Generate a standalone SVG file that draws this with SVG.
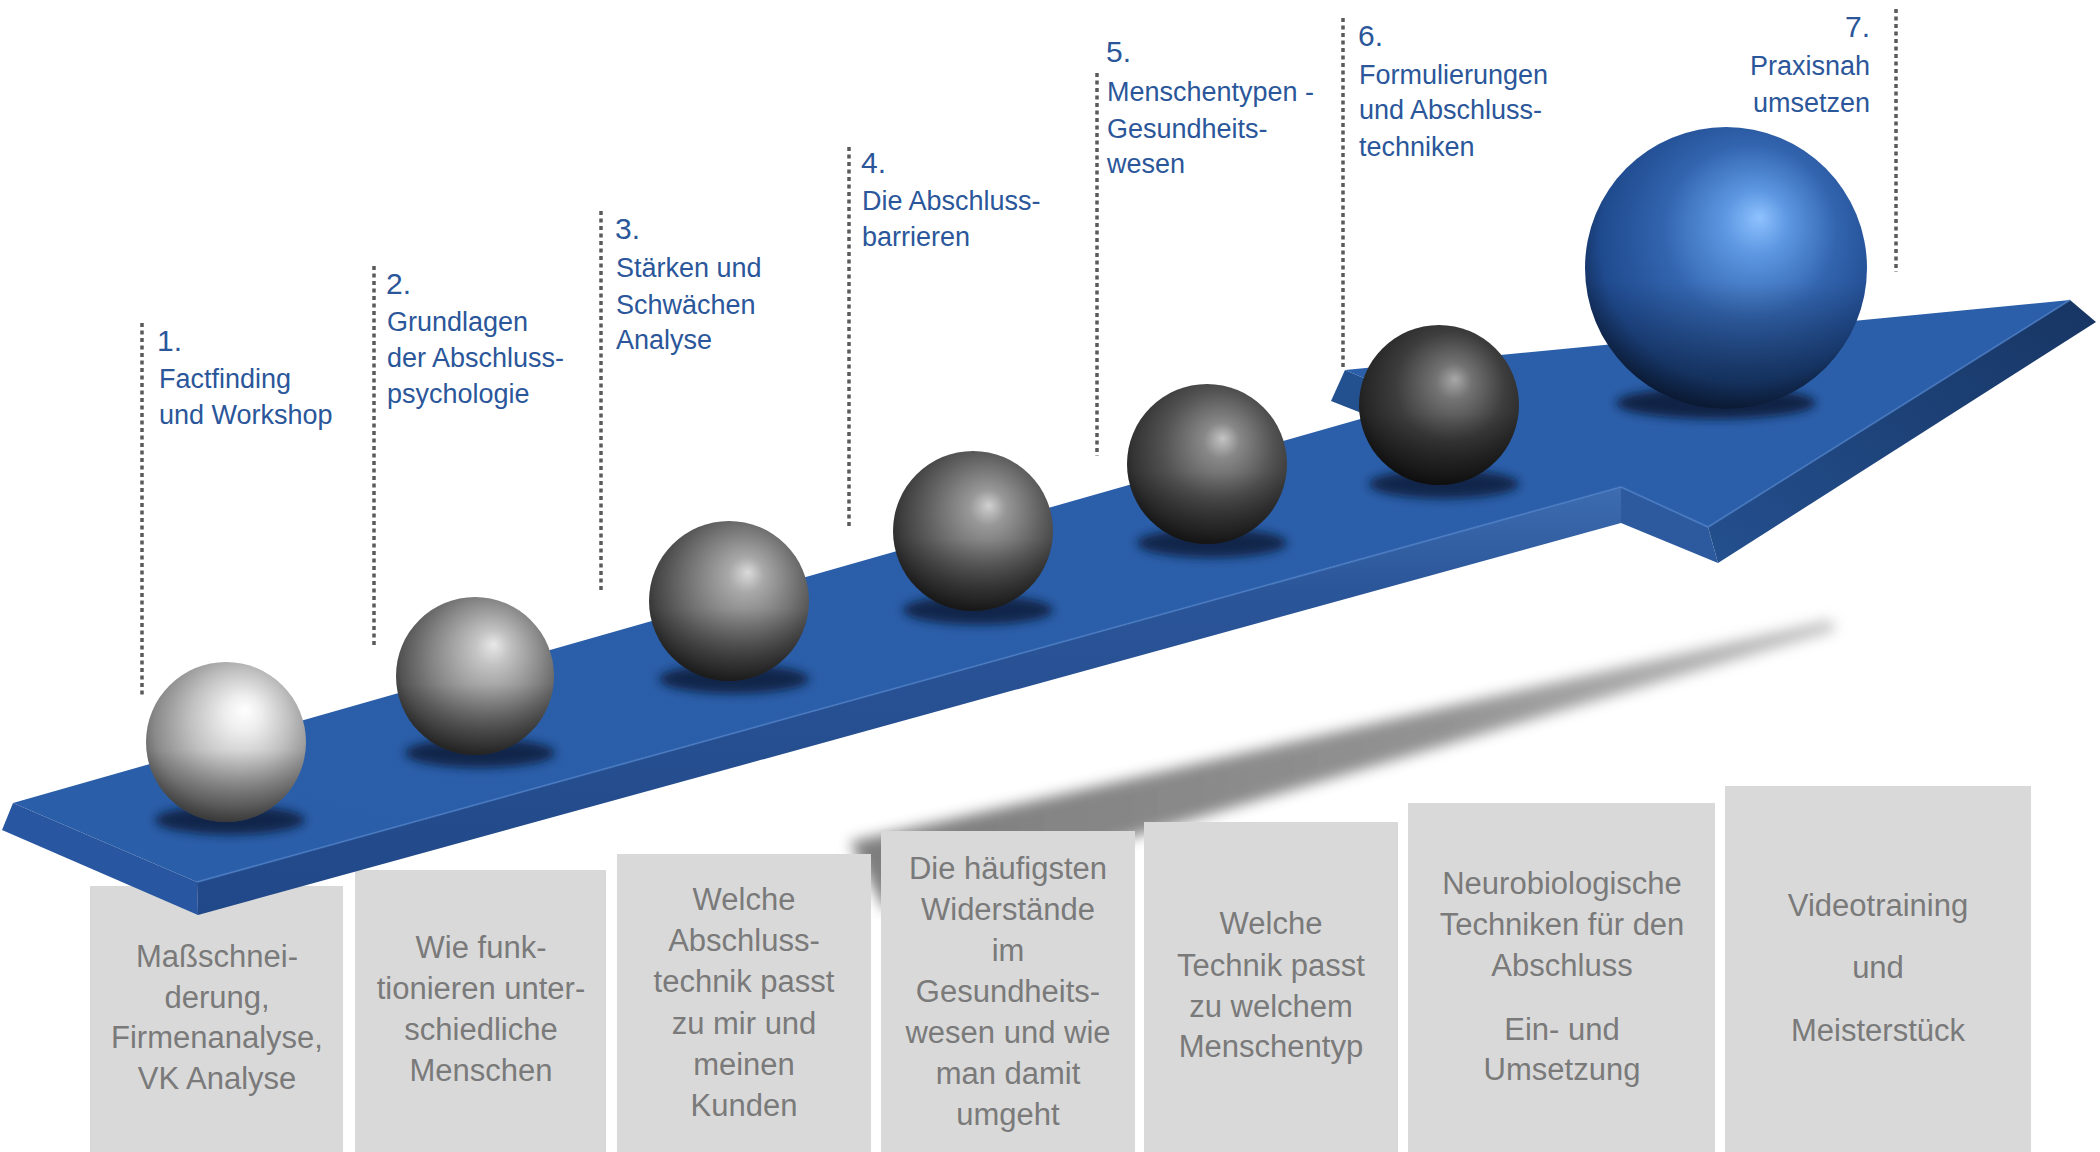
<svg xmlns="http://www.w3.org/2000/svg" width="2100" height="1152" viewBox="0 0 2100 1152">
<style>
.lbl{font-family:"Liberation Sans",Arial,sans-serif;font-size:27px;fill:#2b579a}
.num{font-family:"Liberation Sans",Arial,sans-serif;font-size:30px;fill:#2b579a}
.box{fill:#d9d9d9}
.bt{font-family:"Liberation Sans",Arial,sans-serif;font-size:31px;fill:#7a7a7a;text-anchor:middle}
.dot{stroke:#5a5a5a;stroke-width:3.5;stroke-dasharray:4 3.5;fill:none}
</style>
<defs>
<filter id="blur5" x="-50%" y="-50%" width="200%" height="200%"><feGaussianBlur stdDeviation="5"/></filter>
<filter id="blurS" x="-20%" y="-100%" width="140%" height="300%"><feGaussianBlur stdDeviation="7"/></filter>
<radialGradient id="g1" cx="0.55" cy="0.42" r="0.62" fx="0.62" fy="0.3"><stop offset="0" stop-color="#ffffff"/><stop offset="0.18" stop-color="#eeeeee"/><stop offset="0.5" stop-color="#c0c0c0"/><stop offset="0.82" stop-color="#8a8a8a"/><stop offset="1" stop-color="#5a5a5a"/></radialGradient>
<radialGradient id="g2" cx="0.55" cy="0.42" r="0.62" fx="0.62" fy="0.3"><stop offset="0" stop-color="#e8e8e8"/><stop offset="0.18" stop-color="#c2c2c2"/><stop offset="0.55" stop-color="#888"/><stop offset="0.85" stop-color="#555"/><stop offset="1" stop-color="#333"/></radialGradient>
<radialGradient id="g3" cx="0.55" cy="0.42" r="0.62" fx="0.62" fy="0.32"><stop offset="0" stop-color="#dadada"/><stop offset="0.18" stop-color="#a8a8a8"/><stop offset="0.55" stop-color="#727272"/><stop offset="0.85" stop-color="#444"/><stop offset="1" stop-color="#262626"/></radialGradient>
<radialGradient id="g4" cx="0.55" cy="0.42" r="0.62" fx="0.6" fy="0.34"><stop offset="0" stop-color="#d0d0d0"/><stop offset="0.18" stop-color="#989898"/><stop offset="0.55" stop-color="#636363"/><stop offset="0.85" stop-color="#3a3a3a"/><stop offset="1" stop-color="#202020"/></radialGradient>
<radialGradient id="g5" cx="0.55" cy="0.42" r="0.62" fx="0.6" fy="0.34"><stop offset="0" stop-color="#c4c4c4"/><stop offset="0.18" stop-color="#888"/><stop offset="0.55" stop-color="#535353"/><stop offset="0.85" stop-color="#333"/><stop offset="1" stop-color="#1c1c1c"/></radialGradient>
<radialGradient id="g6" cx="0.55" cy="0.42" r="0.62" fx="0.6" fy="0.34"><stop offset="0" stop-color="#a8a8a8"/><stop offset="0.18" stop-color="#737373"/><stop offset="0.55" stop-color="#3d3d3d"/><stop offset="0.85" stop-color="#262626"/><stop offset="1" stop-color="#141414"/></radialGradient>
<radialGradient id="gb" cx="0.55" cy="0.42" r="0.62" fx="0.62" fy="0.32"><stop offset="0" stop-color="#8ec2ff"/><stop offset="0.18" stop-color="#5e98e2"/><stop offset="0.5" stop-color="#3264ae"/><stop offset="0.82" stop-color="#1f4a8e"/><stop offset="1" stop-color="#0e2348"/></radialGradient>
<linearGradient id="dark" x1="0" y1="0" x2="0" y2="1"><stop offset="0.55" stop-color="#000" stop-opacity="0"/><stop offset="1" stop-color="#000" stop-opacity="0.45"/></linearGradient>
<linearGradient id="ff" x1="0" y1="0" x2="0" y2="1"><stop offset="0" stop-color="#3d6cb0"/><stop offset="0.25" stop-color="#2a5598"/><stop offset="1" stop-color="#214888"/></linearGradient>
<linearGradient id="hf" x1="0" y1="1" x2="1" y2="0"><stop offset="0" stop-color="#24508f"/><stop offset="1" stop-color="#173563"/></linearGradient>
<linearGradient id="top" x1="0" y1="1" x2="1" y2="0"><stop offset="0" stop-color="#2b5ea8"/><stop offset="1" stop-color="#2c5fa9"/></linearGradient>
<linearGradient id="sh" x1="0" y1="0" x2="1" y2="0"><stop offset="0" stop-color="#666"/><stop offset="0.6" stop-color="#808080"/><stop offset="1" stop-color="#b5b5b5"/></linearGradient>
</defs>

<g id="ground-shadow">
<path d="M850 842 L1830 620 L1836 630 L885 910 Z" fill="url(#sh)" opacity="0.85" filter="url(#blurS)"/>
</g>

<g id="boxes">
<g id="box1"><rect class="box" x="90" y="886" width="253" height="266"/>
<text class="bt" x="217" y="967">Maßschnei-</text><text class="bt" x="217" y="1008">derung,</text><text class="bt" x="217" y="1048">Firmenanalyse,</text><text class="bt" x="217" y="1089">VK Analyse</text></g>
<g id="box2"><rect class="box" x="355" y="870" width="251" height="282"/>
<text class="bt" x="481" y="958">Wie funk-</text><text class="bt" x="481" y="999">tionieren unter-</text><text class="bt" x="481" y="1040">schiedliche</text><text class="bt" x="481" y="1081">Menschen</text></g>
<g id="box3"><rect class="box" x="617" y="854" width="254" height="298"/>
<text class="bt" x="744" y="910">Welche</text><text class="bt" x="744" y="951">Abschluss-</text><text class="bt" x="744" y="992">technik passt</text><text class="bt" x="744" y="1034">zu mir und</text><text class="bt" x="744" y="1075">meinen</text><text class="bt" x="744" y="1116">Kunden</text></g>
<g id="box4"><rect class="box" x="881" y="831" width="254" height="321"/>
<text class="bt" x="1008" y="879">Die häufigsten</text><text class="bt" x="1008" y="920">Widerstände</text><text class="bt" x="1008" y="961">im</text><text class="bt" x="1008" y="1002">Gesundheits-</text><text class="bt" x="1008" y="1043">wesen und wie</text><text class="bt" x="1008" y="1084">man damit</text><text class="bt" x="1008" y="1125">umgeht</text></g>
<g id="box5"><rect class="box" x="1144" y="822" width="254" height="330"/>
<text class="bt" x="1271" y="934">Welche</text><text class="bt" x="1271" y="976">Technik passt</text><text class="bt" x="1271" y="1017">zu welchem</text><text class="bt" x="1271" y="1057">Menschentyp</text></g>
<g id="box6"><rect class="box" x="1408" y="803" width="307" height="349"/>
<text class="bt" x="1562" y="894">Neurobiologische</text><text class="bt" x="1562" y="935">Techniken für den</text><text class="bt" x="1562" y="976">Abschluss</text><text class="bt" x="1562" y="1040">Ein- und</text><text class="bt" x="1562" y="1080">Umsetzung</text></g>
<g id="box7"><rect class="box" x="1725" y="786" width="306" height="366"/>
<text class="bt" x="1878" y="916">Videotraining</text><text class="bt" x="1878" y="978">und</text><text class="bt" x="1878" y="1041">Meisterstück</text></g>
</g>

<g id="arrow">
<path d="M1345 370 L1420 402 L1420 436 L1331 401 Z" fill="#23508f"/>
<path d="M13 803 L197 882 L198 915 L2 830 Z" fill="#2856a0"/>
<path d="M197 882 L1621 487 L1621 523 L198 915 Z" fill="url(#ff)"/>
<path d="M1621 487 L1708 527 L1718 563 L1621 523 Z" fill="#2d5a9e"/>
<path d="M1708 527 L2070 300 L2096 322 L1718 563 Z" fill="url(#hf)"/>
<path d="M13 803 L1420 402 L1345 370 L2070 300 L1708 527 L1621 487 L197 882 Z" fill="url(#top)"/>
<path d="M197 882 L1621 487 M1621 487 L1708 527 L2070 300" stroke="#4a7cc4" stroke-width="2" fill="none" opacity="0.7"/>
</g>

<g id="ball-shadows" fill="#081a3a">
<ellipse cx="230" cy="820" rx="75" ry="15" filter="url(#blur5)" opacity="0.85"/>
<ellipse cx="480" cy="753" rx="75" ry="15" filter="url(#blur5)" opacity="0.85"/>
<ellipse cx="734" cy="679" rx="75" ry="15" filter="url(#blur5)" opacity="0.85"/>
<ellipse cx="978" cy="610" rx="75" ry="15" filter="url(#blur5)" opacity="0.85"/>
<ellipse cx="1212" cy="543" rx="75" ry="15" filter="url(#blur5)" opacity="0.85"/>
<ellipse cx="1444" cy="484" rx="75" ry="15" filter="url(#blur5)" opacity="0.85"/>
<ellipse cx="1716" cy="403" rx="100" ry="16" filter="url(#blur5)" opacity="0.9"/>
</g>

<g id="step1"><circle cx="226" cy="742" r="80" fill="url(#g1)"/><circle cx="226" cy="742" r="80" fill="url(#dark)"/>
<line class="dot" x1="142" y1="323" x2="142" y2="695"/>
<text class="num" x="157" y="351">1.</text><text class="lbl" x="159" y="388">Factfinding</text><text class="lbl" x="159" y="424">und Workshop</text></g>
<g id="step2"><circle cx="475" cy="676" r="79" fill="url(#g2)"/><circle cx="475" cy="676" r="79" fill="url(#dark)"/>
<line class="dot" x1="374" y1="266" x2="374" y2="646"/>
<text class="num" x="386" y="294">2.</text><text class="lbl" x="387" y="331">Grundlagen</text><text class="lbl" x="387" y="367">der Abschluss-</text><text class="lbl" x="387" y="403">psychologie</text></g>
<g id="step3"><circle cx="729" cy="601" r="80" fill="url(#g3)"/><circle cx="729" cy="601" r="80" fill="url(#dark)"/>
<line class="dot" x1="601" y1="211" x2="601" y2="592"/>
<text class="num" x="615" y="239">3.</text><text class="lbl" x="616" y="277">Stärken und</text><text class="lbl" x="616" y="314">Schwächen</text><text class="lbl" x="616" y="349">Analyse</text></g>
<g id="step4"><circle cx="973" cy="531" r="80" fill="url(#g4)"/><circle cx="973" cy="531" r="80" fill="url(#dark)"/>
<line class="dot" x1="849" y1="147" x2="849" y2="529"/>
<text class="num" x="861" y="173">4.</text><text class="lbl" x="862" y="210">Die Abschluss-</text><text class="lbl" x="862" y="246">barrieren</text></g>
<g id="step5"><circle cx="1207" cy="464" r="80" fill="url(#g5)"/><circle cx="1207" cy="464" r="80" fill="url(#dark)"/>
<line class="dot" x1="1097" y1="73" x2="1097" y2="456"/>
<text class="num" x="1106" y="62">5.</text><text class="lbl" x="1107" y="101">Menschentypen -</text><text class="lbl" x="1107" y="138">Gesundheits-</text><text class="lbl" x="1107" y="173">wesen</text></g>
<g id="step6"><circle cx="1439" cy="405" r="80" fill="url(#g6)"/><circle cx="1439" cy="405" r="80" fill="url(#dark)"/>
<line class="dot" x1="1343" y1="18" x2="1343" y2="367"/>
<text class="num" x="1358" y="46">6.</text><text class="lbl" x="1359" y="84">Formulierungen</text><text class="lbl" x="1359" y="119">und Abschluss-</text><text class="lbl" x="1359" y="156">techniken</text></g>
<g id="step7"><circle cx="1726" cy="268" r="141" fill="url(#gb)"/><circle cx="1726" cy="268" r="141" fill="url(#dark)"/>
<line class="dot" x1="1896" y1="9" x2="1896" y2="272"/>
<text class="num" x="1870" y="37" text-anchor="end">7.</text><text class="lbl" x="1870" y="75" text-anchor="end">Praxisnah</text><text class="lbl" x="1870" y="112" text-anchor="end">umsetzen</text></g>
</svg>
